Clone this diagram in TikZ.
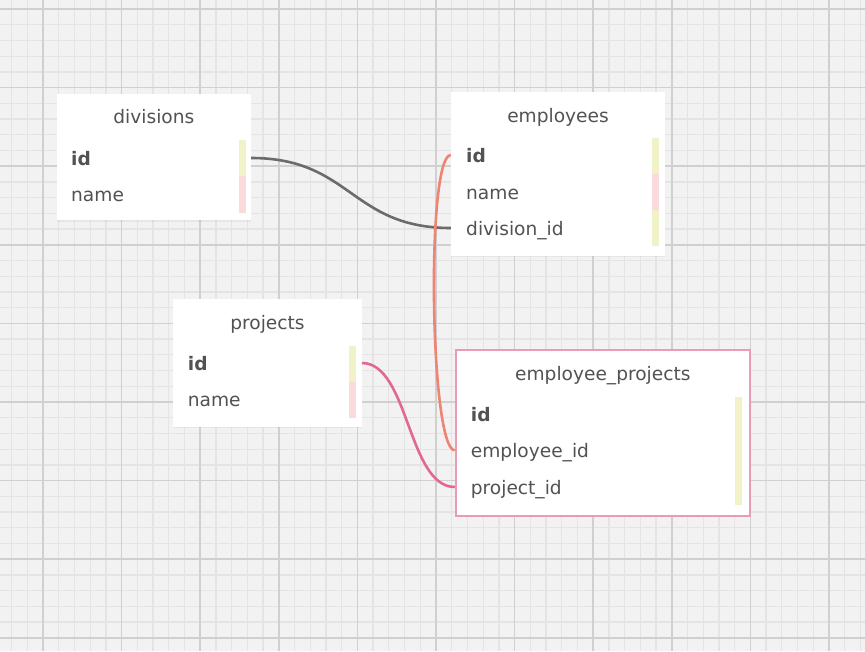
\documentclass[tikz,border=0pt]{standalone}
\usepackage{fontspec}
\setmainfont{DejaVu Sans}
\usetikzlibrary{shadows}
\definecolor{paper}{HTML}{F2F2F2}
\definecolor{minorgrid}{HTML}{E4E4E4}
\definecolor{majorgrid}{HTML}{D0D0D0}
\definecolor{txtgray}{HTML}{525252}
\definecolor{pkmark}{HTML}{F2F2C8}
\definecolor{colmark}{HTML}{FADADB}
\definecolor{linkgray}{HTML}{6B6B6B}
\definecolor{linkorange}{HTML}{EE8474}
\definecolor{linkpink}{HTML}{E2688F}
\definecolor{selpink}{HTML}{E99DB5}
\tikzstyle{tablebox}=[fill=white,inner sep=0pt,drop shadow={shadow xshift=0pt,shadow yshift=-1.5pt,opacity=0.1}]
\tikzstyle{tabletitle}=[font=\fontsize{18.6}{20}\selectfont,text=txtgray,text height=14pt,text depth=0pt,inner sep=0pt]
\tikzstyle{field}=[tabletitle,anchor=west]
\tikzstyle{keyfield}=[field,font=\fontsize{18.6}{20}\selectfont\bfseries]
\tikzstyle{link}=[draw,line width=2.6pt]
\begin{document}
\begin{tikzpicture}[x=1pt,y=-1pt]

    % canvas and grid
    \useasboundingbox (0,0) rectangle (865,651);
    \clip (0,0) rectangle (865,651);
    \fill[paper] (0,0) rectangle (865,651);
    \foreach \i in {-2,...,52}
        \draw[minorgrid,line width=1.3pt] (43+15.72*\i,0) -- (43+15.72*\i,651);
    \foreach \j in {-1,...,41}
        \draw[minorgrid,line width=1.3pt] (0,9+15.72*\j) -- (865,9+15.72*\j);
    \foreach \i in {0,...,10}
        \draw[majorgrid,line width=1.5pt] (43+78.6*\i,0) -- (43+78.6*\i,651);
    \foreach \j in {0,...,8}
        \draw[majorgrid,line width=1.5pt] (0,9+78.6*\j) -- (865,9+78.6*\j);

    % tables
    \node[tablebox,minimum width=194.3pt,minimum height=125.7pt] (divisions) at (153.85,157.15) {};
    \node[tablebox,minimum width=214pt,minimum height=164pt] (employees) at (558,173.7) {};
    \node[tablebox,minimum width=188.4pt,minimum height=127.4pt] (projects) at (267.5,363) {};
    \node[tablebox,draw=selpink,line width=1.8pt,minimum width=294.3pt,minimum height=165.7pt] (empproj) at (602.85,432.85) {};

    % key / column marks
    \foreach \x/\y/\c in {239/158/pkmark, 239/194.3/colmark,
                          652.3/156.3/pkmark, 652.3/192.5/colmark, 652.3/228.2/pkmark,
                          349.3/363.8/pkmark, 349.3/400.1/colmark}
        \fill[\c] (\x,\y-18.2) rectangle (\x+6.6,\y+18.2);
    \fill[pkmark] (735.3,397) rectangle (741.8,504.7);

    % titles
    \foreach \pos/\name/\txt in {{(153.85,116)/d-title/divisions}, {(558,115.3)/e-title/employees},
                                 {(267.5,322.3)/p-title/projects}, {(602.85,373.7)/ep-title/employee\_projects}}
        \node[tabletitle] (\name) at \pos {\txt};

    % fields
    \foreach \pos/\name in {{(71,158)/d-id}, {(466,155)/e-id}, {(187.7,363)/p-id}, {(470.7,414)/ep-id}}
        \node[keyfield] (\name) at \pos {id};
    \foreach \pos/\name/\txt in {{(71,194)/d-name/name}, {(466,192)/e-name/name}, {(466,228)/e-div/division\_id},
                                 {(187.7,399)/p-name/name}, {(470.7,450.3)/ep-emp/employee\_id},
                                 {(470.7,487)/ep-proj/project\_id}}
        \node[field] (\name) at \pos {\txt};

    % references
    \path[link,linkgray] (divisions.east |- d-id) .. controls +(100,0) and +(-100,0) .. (employees.west |- e-div);
    \path[link,linkorange] (employees.west |- e-id) .. controls +(-25,0) and +(-25,0) .. (empproj.west |- ep-emp);
    \path[link,linkpink] (projects.east |- p-id) .. controls +(47,0) and +(-47,0) .. (empproj.west |- ep-proj);

\end{tikzpicture}
\end{document}
